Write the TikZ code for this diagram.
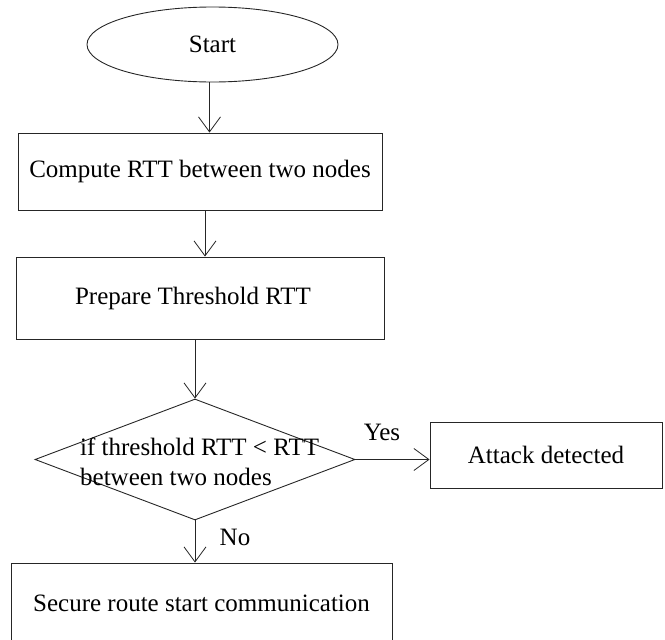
\documentclass[tikz,border=0pt]{standalone}
\usepackage{fontspec}
\setmainfont{Liberation Serif}
\usetikzlibrary{shapes.geometric,arrows.meta}

\tikzset{
  every node/.style={font=\fontsize{25}{30}\selectfont, inner sep=0pt},
  line/.style={line width=0.9pt, draw=black!85},
  flow/.style={line, -{Straight Barb[length=15pt,width=22pt,line width=0.8pt]}},
  procbox/.style={line, rectangle},
  terminal/.style={line, ellipse},
  decision/.style={line, diamond},
}

\begin{document}
\begin{tikzpicture}[x=1pt,y=-1pt]
  \useasboundingbox (0,0) rectangle (665,640);
  \clip (0,0) rectangle (665,640);

  % terminal and process steps
  \node[terminal, minimum width=251pt, minimum height=75pt] (start) at (212.5,44.5) {Start};
  \node[procbox, minimum width=364pt, minimum height=77pt] (compute) at (200,171.5)
       {Compute RTT between two nodes};
  \node[procbox, minimum width=368pt, minimum height=82pt] (prepare) at (200,298)
       {\hspace*{-14pt}Prepare Threshold RTT};

  % decision with its condition text
  \node[decision, minimum width=320pt, minimum height=121pt] (check) at (195,459.5) {};
  \node[anchor=west, align=left] (cond) at (80,462)
       {if threshold RTT < RTT\\between two nodes};

  % outcomes
  \node[procbox, minimum width=232pt, minimum height=66pt] (attack) at (546,455)
       {Attack detected};
  \node[procbox, minimum width=381pt, minimum height=80pt] (secure) at (201.5,603)
       {Secure route start communication};

  % connectors
  \draw[flow] ([xshift=-3pt]start.south) -- ([xshift=-3pt]start.south |- compute.north);
  \draw[flow] ([xshift=5pt]compute.south) -- ([xshift=5pt]compute.south |- prepare.north);
  \draw[flow] (check.north |- prepare.south) -- (check.north);
  \draw[flow] (check.east) -- (check.east -| attack.west);
  \node (yes) at (382,432) {Yes};
  \draw[flow] (check.south) -- (check.south |- secure.north);
  \node (no) at (235,537) {No};
\end{tikzpicture}
\end{document}
